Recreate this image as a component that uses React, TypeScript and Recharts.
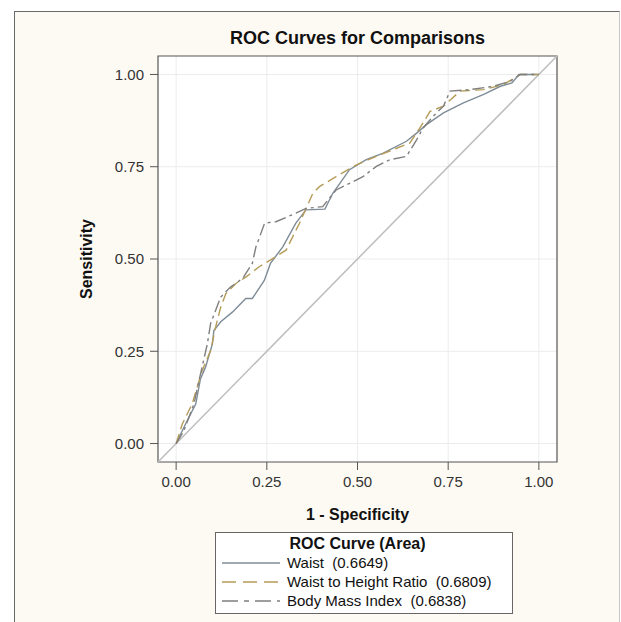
import {
  LineChart,
  Line,
  XAxis,
  YAxis,
  CartesianGrid,
  ReferenceLine,
  ReferenceArea,
} from 'recharts';

// ROC points: [1 - specificity, sensitivity]
const waistPoints: [number, number][] = [
  [0, 0], [0.026, 0.053], [0.054, 0.107], [0.067, 0.175], [0.081, 0.207],
  [0.1, 0.27], [0.104, 0.306], [0.123, 0.33], [0.155, 0.356], [0.192, 0.393],
  [0.21, 0.393], [0.243, 0.442], [0.26, 0.488], [0.294, 0.533], [0.33, 0.597],
  [0.358, 0.633], [0.41, 0.635], [0.432, 0.678], [0.478, 0.742], [0.524, 0.769],
  [0.571, 0.787], [0.635, 0.819], [0.663, 0.841], [0.69, 0.864], [0.737, 0.896],
  [0.792, 0.923], [0.848, 0.946], [0.894, 0.968], [0.926, 0.977], [0.945, 1.0],
  [1, 1],
];

const whtrPoints: [number, number][] = [
  [0, 0], [0.017, 0.053], [0.044, 0.107], [0.072, 0.198], [0.095, 0.252],
  [0.109, 0.316], [0.123, 0.37], [0.137, 0.406], [0.164, 0.433], [0.192, 0.451],
  [0.229, 0.479], [0.266, 0.501], [0.303, 0.524], [0.34, 0.597], [0.377, 0.678],
  [0.395, 0.696], [0.441, 0.723], [0.497, 0.755], [0.552, 0.778], [0.608, 0.8],
  [0.644, 0.814], [0.672, 0.855], [0.7, 0.9], [0.737, 0.914], [0.783, 0.955],
  [0.848, 0.959], [0.903, 0.973], [0.949, 1.0], [1, 1],
];

const bmiPoints: [number, number][] = [
  [0, 0], [0.021, 0.034], [0.049, 0.107], [0.063, 0.17], [0.086, 0.27],
  [0.095, 0.325], [0.109, 0.361], [0.123, 0.397], [0.15, 0.424], [0.183, 0.447],
  [0.21, 0.488], [0.22, 0.533], [0.244, 0.597], [0.275, 0.601], [0.33, 0.624],
  [0.358, 0.637], [0.404, 0.642], [0.441, 0.687], [0.478, 0.705], [0.515, 0.723],
  [0.552, 0.751], [0.589, 0.769], [0.635, 0.778], [0.663, 0.823], [0.681, 0.855],
  [0.709, 0.887], [0.737, 0.914], [0.755, 0.955], [0.811, 0.959], [0.875, 0.968],
  [0.922, 0.982], [0.949, 1.0], [1, 1],
];

const ticks = [0, 0.25, 0.5, 0.75, 1];

const seriesLabels = ['Waist  (0.6649)', 'Waist to Height Ratio  (0.6809)', 'Body Mass Index  (0.6838)'];

const toRows = (pts: [number, number][]) => pts.map(([x, y]) => ({ x, y }));

const FONT = '"Liberation Sans", Arial, sans-serif';

const series = [
  { name: seriesLabels[0], data: toRows(waistPoints), color: '#7e8c98', dash: undefined as string | undefined, legendDash: undefined as string | undefined },
  { name: seriesLabels[1], data: toRows(whtrPoints), color: '#b59c58', dash: '10 5', legendDash: '14 7' },
  { name: seriesLabels[2], data: toRows(bmiPoints), color: '#7f7f7f', dash: '12 4 3 4', legendDash: '16 6 5 6' },
];

const App = () => {
  return (
    <div style={{ position: 'absolute', left: 0, top: 0, width: 621, height: 622, background: '#fff', fontFamily: FONT }}>
      {/* cream panel */}
      <div
        style={{
          position: 'absolute',
          left: 14,
          top: 11,
          width: 604,
          height: 620,
          background: '#fdfaf3',
          borderLeft: '1.5px solid #6a6a6a',
          borderTop: '1.5px solid #6a6a6a',
          borderRight: '1px solid #c8c8c8',
        }}
      />
      <div
        style={{
          position: 'absolute',
          left: 158,
          width: 399,
          top: 28,
          textAlign: 'center',
          fontSize: 18,
          fontWeight: 'bold',
          color: '#111',
        }}
      >
        ROC Curves for Comparisons
      </div>
      <div style={{ position: 'absolute', left: 0, top: 0 }}>
        <LineChart width={621} height={622} margin={{ top: 56, right: 64, left: 0, bottom: 130 }}>
          <CartesianGrid fill="#fff" stroke="#ececec" horizontalValues={ticks} verticalValues={ticks} />
          <XAxis
            dataKey="x"
            type="number"
            domain={[-0.05, 1.05]}
            ticks={ticks}
            allowDataOverflow
            height={30}
            axisLine={false}
            tickSize={8}
            tickLine={{ stroke: '#555' }}
            tick={{ fill: '#333', fontSize: 15, fontFamily: FONT, dy: 4 }}
            tickFormatter={(v: number) => v.toFixed(2)}
            label={({ viewBox }: any) => (
              <text
                x={viewBox.x + viewBox.width / 2}
                y={520}
                textAnchor="middle"
                fontSize={16}
                fontWeight="bold"
                fontFamily={FONT}
                fill="#111"
              >
                1 - Specificity
              </text>
            )}
          />
          <YAxis
            dataKey="y"
            type="number"
            domain={[-0.05, 1.05]}
            ticks={ticks}
            allowDataOverflow
            width={158}
            axisLine={false}
            tickSize={8}
            tickLine={{ stroke: '#555' }}
            tick={{ fill: '#333', fontSize: 15, fontFamily: FONT, dx: -4 }}
            tickFormatter={(v: number) => v.toFixed(2)}
            label={({ viewBox }: any) => {
              const cy = viewBox.y + viewBox.height / 2;
              return (
                <text
                  x={92}
                  y={cy}
                  transform={`rotate(-90 92 ${cy})`}
                  textAnchor="middle"
                  fontSize={16}
                  fontWeight="bold"
                  fontFamily={FONT}
                  fill="#111"
                >
                  Sensitivity
                </text>
              );
            }}
          />
          <ReferenceLine
            segment={[{ x: -0.05, y: -0.05 }, { x: 1.05, y: 1.05 }]}
            stroke="#bdbdbd"
            strokeWidth={1.5}
            ifOverflow="visible"
          />
          {series.map((s) => (
            <Line
              key={s.name}
              data={s.data}
              dataKey="y"
              name={s.name}
              type="linear"
              stroke={s.color}
              strokeWidth={1.4}
              strokeDasharray={s.dash}
              dot={false}
              activeDot={false}
              isAnimationActive={false}
            />
          ))}
          <ReferenceArea x1={-0.05} x2={1.05} y1={-0.05} y2={1.05} fill="none" stroke="#555" strokeWidth={1.2} fillOpacity={0} />
        </LineChart>
      </div>
      {/* legend */}
      <div
        style={{
          position: 'absolute',
          left: 215,
          top: 532,
          width: 296,
          height: 80,
          background: '#fff',
          border: '1px solid #666',
          fontSize: 15,
          color: '#111',
        }}
      >
        <div style={{ textAlign: 'center', fontWeight: 'bold', fontSize: 16, marginTop: 2, paddingRight: 13 }}>
          ROC Curve (Area)
        </div>
        {series.map((s) => (
          <div key={s.name} style={{ display: 'flex', alignItems: 'center', height: 19 }}>
            <svg width={66} height={19} style={{ flex: 'none' }}>
              <line x1={6} x2={64} y1={10} y2={10} stroke={s.color} strokeWidth={1.3} strokeDasharray={s.legendDash} />
            </svg>
            <span style={{ marginLeft: 5, whiteSpace: 'pre' }}>{s.name}</span>
          </div>
        ))}
      </div>
    </div>
  );
};

export default App;
